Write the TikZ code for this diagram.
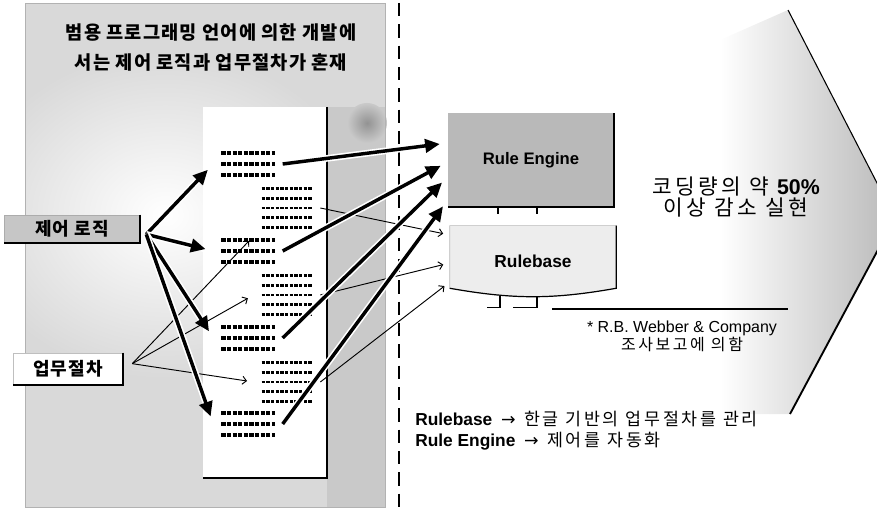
\documentclass[tikz,border=0pt]{standalone}
\usepackage{fontspec}
\setmainfont{Liberation Sans}
\newfontfamily\kr[LetterSpace=6]{Noto Sans CJK KR}
\newfontfamily\krw[LetterSpace=16]{Noto Sans CJK KR}
\newfontfamily\sym{DejaVu Sans}
\usetikzlibrary{arrows.meta,positioning}

\tikzset{
  fatarrow/.style={line width=2.6pt, shorten >=6pt,
    -{Triangle[length=11pt,width=10pt]},
    preaction={draw=white, line width=5pt, -}},
  thinarrow/.style={line width=0.7pt, shorten >=5pt,
    -{Straight Barb[length=3pt,width=6pt]}},
  memoA/.style={minimum width=40pt, minimum height=18pt, inner sep=0pt, outer sep=6pt},
  memoB/.style={minimum width=38pt, minimum height=30pt, inner sep=0pt, outer sep=6pt},
  scribA/.style={line width=3pt, dash pattern=on 3.2pt off 1pt},
  scribB/.style={line width=2.2pt, dash pattern=on 2.6pt off 0.9pt},
  tag/.style={inner sep=0pt, font=\kr\bfseries\fontsize{13.5}{15}\selectfont},
}

\begin{document}
\begin{tikzpicture}[x=0.75pt,y=-0.75pt]
\useasboundingbox (0,0) rectangle (877,509);
\clip (0,0) rectangle (877,509);

% big arrow on the right
\shade[left color=white, right color=gray!55] (720,40) -- (788,10) -- (895,218) -- (790,414) -- (720,414) -- cycle;
\draw[line width=0.8pt] (788,10) -- (895,218);
\draw[line width=1.4pt] (895,218) -- (790,414);

% left panel with the program page
\fill[gray!30] (25,3) rectangle (385,507);
\begin{scope}
  \clip (25,3) rectangle (385,507);
  \shade[inner color=white, outer color=gray!30] (165,215) ellipse (200 and 165);
\end{scope}
\fill[gray!42] (327,107) rectangle (385,507);
\shade[inner color=gray!85, outer color=gray!42] (367,123) circle (20);
\draw[gray!60] (25,3) rectangle (385,507);
\fill[white] (203,107) rectangle (327,478);
\draw[line width=1.5pt] (327,107) -- (327,478) -- (203,478);

% divider
\draw[line width=1.5pt, dash pattern=on 10pt off 6pt] (399,3) -- (399,507);

\node[font=\kr\bfseries\fontsize{14}{22.5}\selectfont, align=center] (title) at (211,48)
  {범용 프로그래밍 언어에 의한 개발에\\서는 제어 로직과 업무절차가 혼재};

% code lines on the page
\node[memoA] (g1) at (248,164) {};
\node[memoB] (g2) at (287,208) {};
\node[memoA] (g3) at (248,251) {};
\node[memoB] (g4) at (287,295) {};
\node[memoA] (g5) at (248,338) {};
\node[memoB] (g6) at (287,382) {};
\node[memoA] (g7) at (248,424) {};
\foreach \g in {g1,g3,g5,g7}
  \foreach \k in {-8.25,0,8.25}
    \draw[scribA] ([xshift=-20pt,yshift=\k*1pt]\g.center) -- ([xshift=20pt,yshift=\k*1pt]\g.center);
\foreach \g in {g2,g4,g6}
  \foreach \k in {-14.6,-7.3,0,7.3,14.6}
    \draw[scribB] ([xshift=-19pt,yshift=\k*1pt]\g.center) -- ([xshift=19pt,yshift=\k*1pt]\g.center);

\node[tag, fill=gray!45, draw=gray!65, minimum width=101pt, minimum height=21pt] (ctl) at (72,229) {제어 로직};
\draw[line width=1.6pt] (ctl.north east) -- (ctl.south east) -- (ctl.south west);
\node[tag, fill=white, draw=gray!50, minimum width=82pt, minimum height=24pt] (proc) at (68,369) {업무절차};
\draw[line width=1.6pt] (proc.north east) -- (proc.south east) -- (proc.south west);

% engine and rulebase
\node[fill=gray!55, minimum width=124.5pt, minimum height=70pt,
  font=\bfseries\fontsize{12.5}{14}\selectfont] (re) at (531,160) {Rule Engine};
\draw[line width=1.2pt] (re.north east) -- (re.south east) -- (re.south west);
\draw[line width=1pt] ([xshift=-24.75pt]re.south) -- ++(0,7);
\draw[line width=1pt] ([xshift=4.5pt]re.south) -- ++(0,7);

\node[minimum width=124.5pt, minimum height=46.5pt] (rb) at (533,257) {};
\path[fill=gray!14, draw=gray!55, line width=0.4pt] (rb.north west) -- (rb.north east)
  -- (rb.south east) to[bend left=10] (rb.south west) -- cycle;
\draw[line width=0.9pt] (rb.north east) -- (rb.south east) to[bend left=10] (rb.south west);
\node[font=\bfseries\fontsize{13}{15}\selectfont] (rbtxt) at ([yshift=-3pt]rb.center) {Rulebase};
\draw[line width=1pt] ([xshift=-24.75pt,yshift=-6pt]rb.south) -- ++(0,11) -- ++(-13,0);
\draw[line width=1pt] ([xshift=3pt,yshift=-6pt]rb.south) -- ++(0,11) -- ++(-24,0);
\draw[line width=1.3pt] (552,309) -- (788,309);

\node[font=\fontsize{12}{13.5}\selectfont, align=center] (note) at (682,336)
  {* R.B. Webber \& Company\\{\krw 조사보고에 의함}};
\node[font=\krw\fontsize{16}{16}\selectfont, align=center] (gain) at (736,197)
  {코딩량의 약 {\normalfont\bfseries 50\%}\\이상 감소 실현};
\node[anchor=west, align=left, inner sep=0pt, font=\fontsize{13}{15.75}\selectfont] (legend) at (415,431)
  {\textbf{Rulebase}\enspace{\sym →}\enspace{\krw 한글 기반의 업무절차를 관리}\\
   \textbf{Rule Engine}\enspace{\sym →}\enspace{\krw 제어를 자동화}};

% connectors
\coordinate (pfan) at ([xshift=7pt,yshift=4pt]proc.east);
\draw[thinarrow] (pfan) -- (g2.south west);
\draw[thinarrow] (pfan) -- (g4.west);
\draw[thinarrow] (pfan) -- (g6.west);
\draw[thinarrow] (g2.east) -- ([yshift=16.5pt]rb.west);
\draw[thinarrow] (g4.east) -- ([yshift=-4.5pt]rb.west);
\draw[thinarrow] (g6.east) -- ([yshift=-18.75pt]rb.west);

\coordinate (fan) at ([xshift=5pt,yshift=-4pt]ctl.east);
\draw[fatarrow] (fan) -- (g1.west);
\draw[fatarrow] (fan) -- (g3.west);
\draw[fatarrow] (fan) -- (g5.west);
\draw[fatarrow] (fan) -- (g7.west);
\draw[fatarrow] (g1.east) -- ([yshift=12.75pt]re.west);
\draw[fatarrow] (g3.east) -- ([yshift=-1.5pt]re.west);
\draw[fatarrow] (g5.east) -- ([yshift=-12.75pt]re.west);
\draw[fatarrow] (g7.east) -- ([yshift=-30pt]re.west);
\end{tikzpicture}
\end{document}
